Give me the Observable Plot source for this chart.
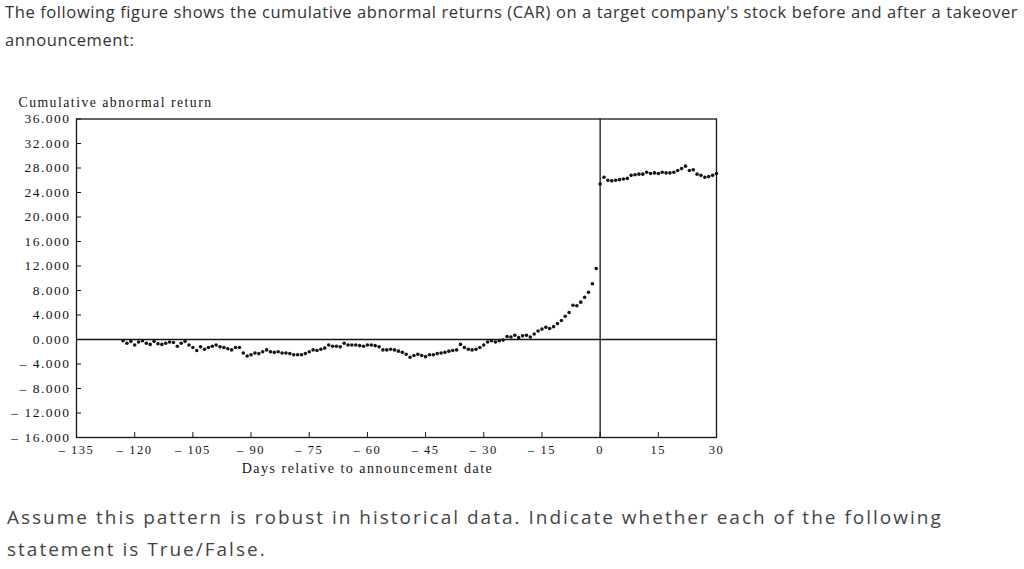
<!DOCTYPE html>
<html><head><meta charset="utf-8">
<script src="https://cdn.jsdelivr.net/npm/d3@7"></script>
<script src="https://cdn.jsdelivr.net/npm/@observablehq/plot@0.6"></script>
<style>
body{margin:0;background:#fff;width:1024px;height:569px;overflow:hidden;position:relative;font-family:"Open Sans",sans-serif;}
#intro{position:absolute;left:5px;top:-2px;font-size:16.5px;line-height:28px;color:#333;letter-spacing:0.6px;white-space:nowrap;}
#outro{position:absolute;left:7px;top:501px;font-size:19px;line-height:32px;color:#444;letter-spacing:2px;white-space:nowrap;}
#chart{position:absolute;left:0;top:90px;}
</style></head><body>
<div id="intro">The following figure shows the cumulative abnormal returns (CAR) on a target company's stock before and after a takeover<br>announcement:</div>
<div id="chart"></div>
<div id="outro">Assume this pattern is robust in historical data. Indicate whether each of the following<br>statement is True/False.</div>
<script>
// Days -123 .. -1
const preStart = -123;
const preCAR = [
 -0.2,-0.6,-0.3,-0.9,-0.4,-0.2,-0.6,-0.8,-0.3,-0.7,-0.8,-0.6,-0.4,-0.5,-1.1,-0.6,-0.3,-0.9,-1.3,-1.8,-1.2,-1.6,-1.3,-1.1,-0.9,-1.2,-1.3,-1.5,-1.7,-1.3,-1.3,-2.2,-2.7,
 -2.5,-2.2,-2.3,-2.0,-1.7,-2.0,-2.1,-2.0,-2.2,-2.2,-2.3,-2.5,-2.5,-2.5,-2.3,-2.0,-1.7,-1.8,-1.6,-1.4,-0.9,-1.1,-1.1,-1.2,-0.6,-0.9,-0.9,-0.9,-1.0,-1.1,
 -0.9,-0.9,-1.0,-1.2,-1.7,-1.7,-1.6,-1.7,-1.9,-2.1,-2.4,-2.9,-2.6,-2.4,-2.6,-2.8,-2.5,-2.5,-2.3,-2.2,-2.1,-1.9,-1.8,-1.7,-0.8,-1.3,-1.6,-1.7,-1.6,-1.3,-0.9,-0.4,
 -0.2,-0.4,-0.2,-0.1,0.5,0.4,0.7,0.3,0.6,0.7,0.4,0.9,1.4,1.7,2.0,1.8,2.1,2.6,3.1,3.8,4.4,5.6,5.5,6.1,6.9,7.7,9.1,11.6
];
// Days 0 .. 30
const postStart = 0;
const postCAR = [
 25.4,26.5,26.0,25.9,26.0,26.1,26.2,26.3,26.8,26.9,27.0,27.0,27.3,27.1,27.2,27.1,27.3,27.2,27.2,27.3,27.6,27.9,28.3,27.6,27.7,27.0,26.8,26.5,26.6,26.8,27.1
];
const xTicks = [-135,-120,-105,-90,-75,-60,-45,-30,-15,0,15,30];
const yTicks = [36,32,28,24,20,16,12,8,4,0,-4,-8,-12,-16];
const yLabel = "Cumulative abnormal return";
const xLabel = "Days relative to announcement date";

const data = [
  ...preCAR.map((v,i)=>({day: preStart + i, car: v})),
  ...postCAR.map((v,i)=>({day: postStart + i, car: v}))
];
const fmtY = d => (d < 0 ? "\u2013 " : "") + Math.abs(d).toFixed(3);
const fmtX = d => (d < 0 ? "\u2013 " : "") + Math.abs(d);
const ink = "#151515";

const chart = Plot.plot({
  width: 740, height: 390,
  marginLeft: 76, marginRight: 24, marginTop: 28.5, marginBottom: 43,
  style: {fontFamily: '"Liberation Serif","Times New Roman",serif', color: ink, background: "transparent", letterSpacing: "1.5px"},
  x: {domain: [-135, 30]},
  y: {domain: [-16, 36]},
  marks: [
    Plot.frame({stroke: ink, strokeWidth: 1.3}),
    Plot.ruleY([0], {stroke: ink, strokeWidth: 1.3}),
    Plot.ruleX([0], {stroke: ink, strokeWidth: 1.3}),
    Plot.tickY(yTicks, {y: d => d, insetRight: 635, stroke: ink}),
    Plot.tickX(xTicks, {x: d => d, insetTop: 313.5, stroke: ink}),
    Plot.axisY(yTicks, {tickSize: 0, tickPadding: 6, tickFormat: fmtY, fontSize: 13.5, label: null}),
    Plot.axisX(xTicks, {tickSize: 0, tickPadding: 8, tickFormat: fmtX, fontSize: 12.5, label: null}),
    Plot.dot(data, {x: "day", y: "car", r: 1.8, fill: ink, stroke: null}),
    Plot.text([yLabel], {text: d => d, frameAnchor: "top-left", dx: -58, dy: -16.5, textAnchor: "start", lineAnchor: "middle", fontSize: 13.7}),
    Plot.text([xLabel], {text: d => d, frameAnchor: "bottom", dx: -29, dy: 31, textAnchor: "middle", lineAnchor: "middle", fontSize: 14})
  ]
});
document.getElementById("chart").appendChild(chart);
</script>
</body></html>
